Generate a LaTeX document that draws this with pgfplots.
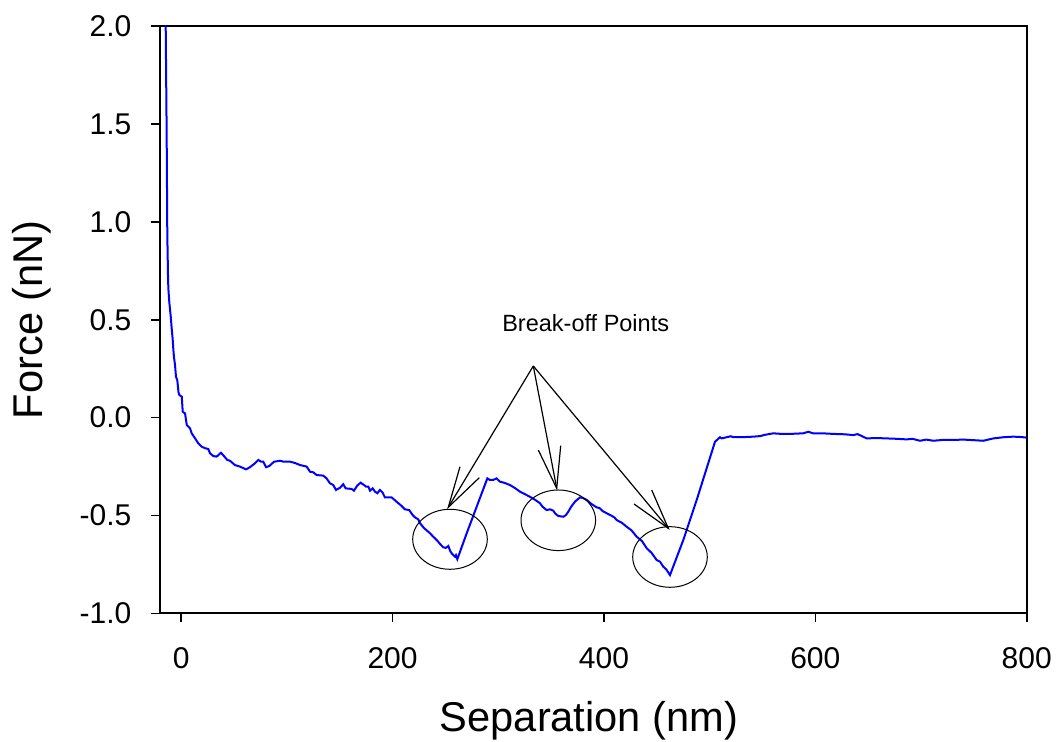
\documentclass[border=0pt]{standalone}
\usepackage{fontspec}
\setmainfont{Liberation Sans}
\usepackage{pgfplots}
\pgfplotsset{compat=1.18}
\begin{document}
\begin{tikzpicture}
\begin{axis}[
  at={(80pt,64.25pt)}, anchor=south west,
  width=433.35pt, height=293.75pt, scale only axis,
  xmin=-20, xmax=800, ymin=-1, ymax=2,
  xtick={0,200,400,600,800}, xticklabels={0,200,400,600,800},
  ytick={-1,-0.5,0,0.5,1,1.5,2}, yticklabels={-1.0,-0.5,0.0,0.5,1.0,1.5,2.0},
  tick align=outside, xtick pos=bottom, ytick pos=left,
  major tick length=4.25pt,
  axis line style={line width=1pt},
  every tick/.style={black, line width=0.8pt},
  ticklabel style={font=\fontsize{15}{18}\selectfont},
  yticklabel style={xshift=-6.5pt},
  xticklabel style={yshift=-9pt},
  xlabel={Separation (nm)}, ylabel={Force (nN)},
  label style={font=\fontsize{20.8}{25}\selectfont},
  xlabel style={at={(axis description cs:0.495,-0.2017)}, anchor=base},
  ylabel style={at={(axis description cs:-0.135,0.5)}, anchor=base},
]
\addplot[color={rgb,255:red,0;green,0;blue,255}, line width=1pt, mark=none] coordinates {
(-14.8,2.2) (-14.6,2.0) (-13.7,1.45) (-13.1,0.94) (-12.4,0.72) (-12.1,0.66) (-11.2,0.59)
(-9.9,0.52) (-9.0,0.46) (-8.0,0.40) (-7.4,0.35) (-6.8,0.31) (-5.8,0.27) (-4.9,0.21)
(-3.6,0.19) (-2.5,0.13) (-1.7,0.116) (0.6,0.107) (1.5,0.03) (3.7,0.022) (5.3,-0.037)
(8.4,-0.054) (10,-0.08) (13.1,-0.105) (16.2,-0.131) (19.4,-0.148) (22.6,-0.156)
(25.7,-0.16) (27.3,-0.182) (30.4,-0.196) (33.6,-0.199) (37.7,-0.179) (40.5,-0.196)
(43.7,-0.216) (46.2,-0.22) (50.9,-0.242) (55.7,-0.25) (61.4,-0.264) (65.1,-0.253)
(69.9,-0.233) (73,-0.216) (75.6,-0.225) (77.7,-0.225) (80.3,-0.253) (83.4,-0.247)
(87.9,-0.225) (93.5,-0.22) (97,-0.225) (103.3,-0.225) (108,-0.232) (112.5,-0.242)
(118.8,-0.25) (121.9,-0.276) (125,-0.279) (128.2,-0.293) (134.5,-0.296) (137.6,-0.31)
(140.8,-0.335) (143.9,-0.344) (146.5,-0.369) (150.3,-0.358) (153.4,-0.34) (155.6,-0.361)
(161.3,-0.364) (163.5,-0.373) (166.6,-0.347) (169.8,-0.332) (173,-0.344) (174.9,-0.352)
(177.1,-0.352) (178.7,-0.373) (181.2,-0.361) (183.4,-0.378) (185.6,-0.386) (188.1,-0.369)
(190.6,-0.383) (192.8,-0.407) (199.1,-0.407) (203.8,-0.429) (208.6,-0.451) (211.7,-0.468)
(215.8,-0.472) (219,-0.497) (221.2,-0.509) (224.3,-0.519) (226,-0.539) (230,-0.565)
(235.4,-0.59) (238,-0.605) (241.8,-0.625) (245,-0.645) (248,-0.662) (250.5,-0.665)
(252.8,-0.655) (254.5,-0.68) (256,-0.693) (259.1,-0.71) (260,-0.702) (261.3,-0.723)
(270.2,-0.59) (279.6,-0.455) (289.7,-0.31) (292,-0.318) (295.3,-0.318) (298.5,-0.31)
(301.7,-0.327) (306,-0.333) (311.1,-0.344) (316,-0.36) (320.6,-0.378) (325,-0.39)
(330,-0.404) (335,-0.42) (339.5,-0.437) (342,-0.455) (345.8,-0.472) (349,-0.468)
(352.1,-0.475) (354,-0.49) (356.8,-0.502) (361.6,-0.506) (364,-0.498) (366.3,-0.48)
(369,-0.455) (372.6,-0.429) (377.4,-0.407) (380,-0.41) (383.7,-0.42) (388,-0.44)
(393.1,-0.458) (396,-0.462) (399,-0.478) (402.6,-0.488) (407,-0.5) (410,-0.51)
(412.1,-0.523) (417,-0.537) (421.5,-0.557) (426,-0.575) (431,-0.608) (436,-0.63)
(440.5,-0.667) (445,-0.69) (449.9,-0.727) (453,-0.735) (456.2,-0.761) (459,-0.775)
(462.5,-0.804) (475.1,-0.625) (487.8,-0.42) (505.1,-0.123) (509.8,-0.1) (511.4,-0.106)
(516,-0.1) (520,-0.095) (522.4,-0.1) (530,-0.1) (541.3,-0.097) (548,-0.094) (552,-0.088)
(560.2,-0.08) (568,-0.083) (576,-0.083) (588.6,-0.08) (593.3,-0.072) (598.1,-0.08)
(607,-0.08) (617,-0.083) (628,-0.085) (635.9,-0.089) (640,-0.084) (648.6,-0.106)
(658,-0.104) (667.5,-0.106) (677,-0.108) (686.4,-0.111) (692,-0.108) (699,-0.118)
(705,-0.112) (711.6,-0.118) (720,-0.114) (730.5,-0.114) (740,-0.112) (750,-0.115)
(758.9,-0.118) (768.4,-0.106) (778,-0.1) (787.3,-0.097) (795,-0.099) (800,-0.102)
};
\end{axis}
\begin{scope}[x=0.5pt, y=-0.5pt, yshift=371pt, line width=0.6pt, black]
  \node[font=\fontsize{11.75}{14}\selectfont, anchor=base, inner sep=0pt] at (585.7,331.7) {Break-off Points};
  \draw (533.3,366) -- (448.3,507.3);
  \draw (533.3,366) -- (556.7,488.3);
  \draw (533.3,366) -- (668.3,528.3);
  \draw (460,466.7) -- (448.3,507.3) -- (479.3,477.7);
  \draw (538.3,450) -- (556.7,488.3) -- (560.7,445.7);
  \draw (651.7,490) -- (668.3,528.3) -- (634,504);
  \draw[line width=0.5pt] (450,539.3) ellipse [x radius=18.65pt, y radius=15pt];
  \draw[line width=0.5pt] (558.3,520.3) ellipse [x radius=18.65pt, y radius=15.15pt];
  \draw[line width=0.5pt] (670,557) ellipse [x radius=18.65pt, y radius=15.15pt];
\end{scope}
\pgfresetboundingbox
\path (0,0) rectangle (530.5pt,371pt);
\end{tikzpicture}
\end{document}
